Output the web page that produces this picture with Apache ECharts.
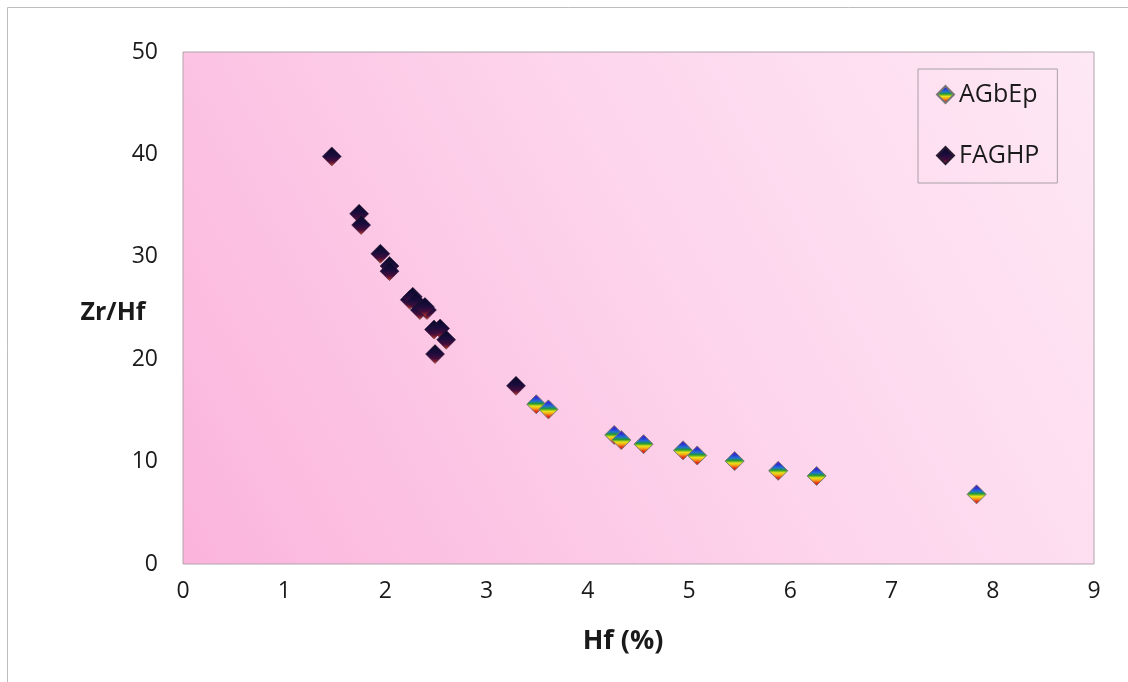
<!DOCTYPE html>
<html>
<head>
<meta charset="utf-8">
<script src="https://cdn.jsdelivr.net/npm/echarts@6/dist/echarts.min.js"></script>
<style>
  html, body { margin: 0; padding: 0; background: #ffffff; }
  #chart { width: 1128px; height: 682px; }
</style>
</head>
<body>
<div id="chart"></div>
<script>
// Hf (%) against Zr/Hf for two rock groups
const seriesNames = ['AGbEp', 'FAGHP'];

const agbepHf = [3.49, 3.61, 4.26, 4.33, 4.55, 4.94, 5.08, 5.45, 5.88, 6.26, 7.84];
const agbepZrHf = [15.6, 15.1, 12.6, 12.1, 11.7, 11.1, 10.6, 10.05, 9.1, 8.6, 6.8];

const faghpHf = [1.47, 1.74, 1.76, 1.95, 2.04, 2.04, 2.24, 2.27, 2.30, 2.34, 2.41, 2.39, 2.48, 2.54, 2.60, 2.49, 3.29];
const faghpZrHf = [39.8, 34.2, 33.1, 30.3, 29.1, 28.6, 25.8, 26.1, 25.6, 24.8, 24.8, 25.1, 22.9, 23.0, 21.9, 20.5, 17.4];

const xTicks = [0, 1, 2, 3, 4, 5, 6, 7, 8, 9];
const yTicks = [0, 10, 20, 30, 40, 50];

const chart = echarts.init(document.getElementById('chart'), null, { renderer: 'canvas' });

const rainbowFill = new echarts.graphic.LinearGradient(0, 0, 0, 1, [
  { offset: 0.00, color: '#6a20c0' },
  { offset: 0.18, color: '#2a30d0' },
  { offset: 0.34, color: '#2070d8' },
  { offset: 0.47, color: '#239a30' },
  { offset: 0.60, color: '#e8e418' },
  { offset: 0.72, color: '#f5a018' },
  { offset: 0.85, color: '#e83018' },
  { offset: 1.00, color: '#c01010' }
]);

const darkFill = new echarts.graphic.LinearGradient(0, 0, 0, 1, [
  { offset: 0.00, color: '#080828' },
  { offset: 0.45, color: '#1a0c3c' },
  { offset: 0.72, color: '#420c3c' },
  { offset: 0.88, color: '#8a2030' },
  { offset: 1.00, color: '#e87818' }
]);

const pair = (xs, ys) => xs.map((x, i) => [x, ys[i]]);

const baseFont = '"Open Sans", "Liberation Sans", sans-serif';
const labelFont = { fontFamily: baseFont, fontSize: 23, color: '#1a1a1a' };

chart.setOption({
  animation: false,
  backgroundColor: '#ffffff',
  grid: {
    left: 183, right: 34, top: 52, bottom: 118,
    show: true,
    borderColor: '#b0a4ac',
    borderWidth: 1,
    backgroundColor: new echarts.graphic.LinearGradient(0, 1, 1, 0, [
      { offset: 0, color: '#fbb4dc' },
      { offset: 0.55, color: '#fdd5ec' },
      { offset: 1, color: '#fee8f5' }
    ])
  },
  xAxis: {
    type: 'value',
    min: xTicks[0], max: xTicks[xTicks.length - 1], interval: 1,
    axisLine: { show: false },
    axisTick: { show: false },
    splitLine: { show: false },
    axisLabel: Object.assign({ margin: 16 }, labelFont)
  },
  yAxis: {
    type: 'value',
    min: yTicks[0], max: yTicks[yTicks.length - 1], interval: 10,
    axisLine: { show: false },
    axisTick: { show: false },
    splitLine: { show: false },
    axisLabel: Object.assign({ margin: 25 }, labelFont)
  },
  legend: {
    orient: 'vertical',
    left: 918, top: 69,
    padding: [13, 18, 15, 18],
    itemGap: 36,
    itemWidth: 17, itemHeight: 17,
    borderColor: '#a8a0a6',
    borderWidth: 1,
    backgroundColor: 'rgba(255,255,255,0)',
    icon: 'diamond',
    textStyle: { fontFamily: baseFont, fontSize: 25, color: '#1a1a1a' },
    data: seriesNames
  },
  graphic: [
    {
      type: 'rect', silent: true, z: -1,
      shape: { x: 7.5, y: 7.5, width: 1200, height: 700 },
      style: { fill: 'none', stroke: '#bdbdbd', lineWidth: 1 }
    },
    {
      type: 'text', x: 113, y: 313,
      style: { text: 'Zr/Hf', font: 'bold 25px ' + baseFont, fill: '#1a1a1a', align: 'center', verticalAlign: 'middle' }
    },
    {
      type: 'text', x: 623, y: 641,
      style: { text: 'Hf (%)', font: 'bold 27px ' + baseFont, fill: '#1a1a1a', align: 'center', verticalAlign: 'middle' }
    }
  ],
  series: [
    {
      name: seriesNames[0],
      type: 'scatter',
      symbol: 'diamond',
      symbolSize: 19,
      itemStyle: { color: rainbowFill, borderColor: '#7a7474', borderWidth: 1, opacity: 1 },
      data: pair(agbepHf, agbepZrHf)
    },
    {
      name: seriesNames[1],
      type: 'scatter',
      symbol: 'diamond',
      symbolSize: 19,
      itemStyle: { color: darkFill, borderColor: '#2a1a30', borderWidth: 0.5, opacity: 1 },
      data: pair(faghpHf, faghpZrHf)
    }
  ]
});
</script>
</body>
</html>
